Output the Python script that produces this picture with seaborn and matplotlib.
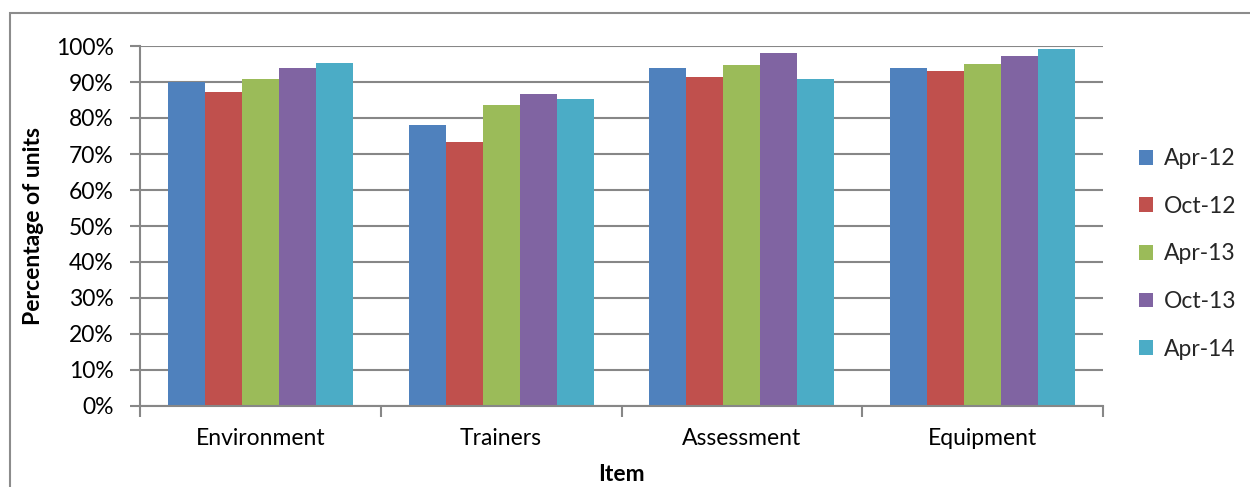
import matplotlib
matplotlib.use("Agg")
import matplotlib.pyplot as plt
import seaborn as sns
import pandas as pd
from matplotlib.ticker import PercentFormatter, FixedLocator, MultipleLocator
from matplotlib.patches import Rectangle

categories = ["Environment", "Trainers", "Assessment", "Equipment"]
series = ["Apr-12", "Oct-12", "Apr-13", "Oct-13", "Apr-14"]
apr12 = [90.0, 78.0, 94.0, 94.0]
oct12 = [87.1, 73.4, 91.3, 93.0]
apr13 = [90.8, 83.7, 94.7, 95.0]
oct13 = [93.9, 86.7, 98.1, 97.2]
apr14 = [95.3, 85.4, 90.9, 99.3]
colors = ["#4F81BD", "#C0504D", "#9BBB59", "#8064A2", "#4BACC6"]

values = [apr12, oct12, apr13, oct13, apr14]
rows = []
for s, vals in zip(series, values):
    for c, v in zip(categories, vals):
        rows.append({"Item": c, "Period": s, "Value": v})
df = pd.DataFrame(rows)

sns.set_theme(style="white")
plt.rcParams["font.family"] = ["Lato", "DejaVu Sans"]
FS = 16.5

fig = plt.figure(figsize=(12.5, 4.87), dpi=100)
ax = fig.add_axes([140/1250, 1-406/487, (1103-140)/1250, 360/487])

sns.barplot(data=df, x="Item", y="Value", hue="Period", order=categories,
            hue_order=series, palette=colors, width=0.768, ax=ax,
            saturation=1, edgecolor="none", legend=True)

gridc = "#878787"
ax.set_ylim(0, 100)
ax.set_xlim(-0.5, 3.5)
ax.yaxis.set_major_locator(MultipleLocator(10))
ax.yaxis.set_major_formatter(PercentFormatter(100, decimals=0))
ax.grid(axis="y", color=gridc, lw=1.5)
ax.set_axisbelow(True)
for s in ["top", "right"]:
    ax.spines[s].set_visible(False)
for s in ["left", "bottom"]:
    ax.spines[s].set_color(gridc)
    ax.spines[s].set_linewidth(1.5)

ax.xaxis.set_minor_locator(FixedLocator([-0.5, 0.5, 1.5, 2.5, 3.5]))
ax.tick_params(axis="x", which="major", length=0, pad=16, labelsize=FS, labelcolor="black")
ax.tick_params(axis="x", which="minor", length=8, width=1.5, color=gridc, direction="out", bottom=True)
ax.tick_params(axis="y", which="major", length=7, width=1.5, color=gridc, direction="out",
               left=True, pad=12, labelsize=FS, labelcolor="black")

ax.set_xlabel("Item", fontsize=FS, fontweight="bold", color="black")
ax.set_ylabel("Percentage of units", fontsize=FS, fontweight="bold", color="black")
ax.xaxis.set_label_coords(0.5, (406-464)/360)
ax.yaxis.set_label_coords((44-140)/963, 0.5)

leg = ax.legend(loc="center left", bbox_to_anchor=(1130/1250, 1-254/487),
                bbox_transform=fig.transFigure, frameon=False, fontsize=FS,
                handlelength=0.62, handleheight=0.62, handletextpad=0.45,
                labelspacing=1.16, borderaxespad=0)

fig.patches.append(Rectangle((10/1250, -0.5), 2, 0.5 + 1 - 13/487, transform=fig.transFigure,
                             fill=False, edgecolor="#8c8c8c", lw=1.5, clip_on=False))

fig.savefig("out.png", dpi=100, facecolor="white")
